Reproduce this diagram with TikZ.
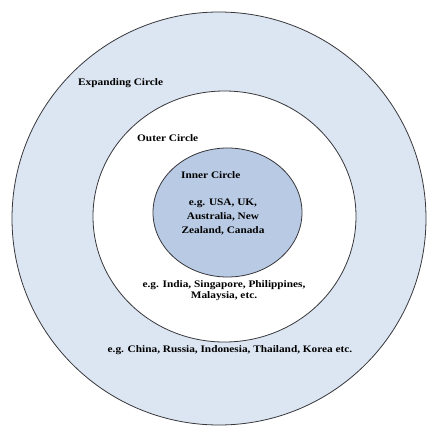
\documentclass[tikz,border=0pt]{standalone}
\usepackage{fontspec}
\setmainfont{Liberation Serif}[FakeStretch=1.13]
\usetikzlibrary{positioning}
\definecolor{paleblue}{RGB}{220,230,242}
\definecolor{coreblue}{RGB}{185,203,228}
\definecolor{rim}{RGB}{55,55,60}
\tikzset{
  ring/.style={draw=rim,line width=0.8pt,fill=#1},
  ring/.default=paleblue,
  title/.style={font=\fontsize{10}{12}\selectfont\bfseries,anchor=west,inner sep=0pt},
  eg/.style={font=\fontsize{10}{#1}\selectfont\bfseries,align=center,inner sep=0pt},
  eg/.default=12
}
\begin{document}
\begin{tikzpicture}[x=1pt,y=-1pt]
  \useasboundingbox (0,0) rectangle (427,429);
  % the three circles
  \draw[ring=paleblue] (219,218.5) ellipse [x radius=207,y radius=206.5];
  \draw[ring=white] (224.5,216.5) ellipse [x radius=131.5,y radius=125.5];
  \draw[ring=coreblue] (227.5,212.5) ellipse [x radius=74.5,y radius=64.5];
  % labels
  \node[title] (expanding) at (78,83) {Expanding Circle};
  \node[title] (outer) at (137,138) {Outer Circle};
  \node[title] (inner) at (181,175) {Inner Circle};
  \node[eg=14] (innereg) at (223,217) {e.g. USA, UK,\\Australia, New\\Zealand, Canada};
  \node[eg=10.5] (outereg) at (224,290.5) {e.g. India, Singapore, Philippines,\\Malaysia, etc.};
  \node[eg] (expandingeg) at (230,350) {e.g. China, Russia, Indonesia, Thailand, Korea etc.};
\end{tikzpicture}
\end{document}
